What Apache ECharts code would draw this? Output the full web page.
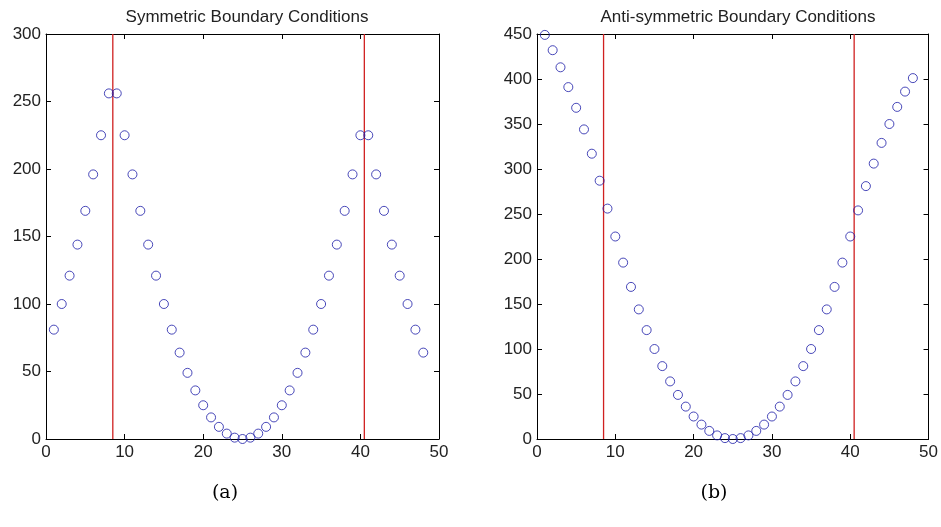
<!DOCTYPE html>
<html>
<head>
<meta charset="utf-8">
<script src="https://cdn.jsdelivr.net/npm/echarts@6/dist/echarts.min.js"></script>
<style>
html, body { margin: 0; padding: 0; background: #fff; }
#main { width: 941px; height: 527px; }
</style>
</head>
<body>
<div id="main"></div>
<script>
// x positions (1..48)
var xs = [1, 2, 3, 4, 5, 6, 7, 8, 9, 10, 11, 12, 13, 14, 15, 16, 17, 18, 19, 20, 21, 22, 23, 24,
	25, 26, 27, 28, 29, 30, 31, 32, 33, 34, 35, 36, 37, 38, 39, 40, 41, 42, 43, 44, 45, 46, 47, 48];

// symmetric boundary values
var symValues = [81, 100, 121, 144, 169, 196, 225, 256, 256, 225, 196, 169, 144, 121, 100, 81,
	64, 49, 36, 25, 16, 9, 4, 1, 0, 1, 4, 9, 16, 25, 36, 49, 64, 81, 100, 121, 144, 169, 196, 225,
	225, 196, 169, 144, 121, 100, 81, 64];
// anti-symmetric boundary values
var antiValues = [449, 432, 413, 391, 368, 344, 317, 287, 256, 225, 196, 169, 144, 121, 100, 81,
	64, 49, 36, 25, 16, 9, 4, 1, 0, 1, 4, 9, 16, 25, 36, 49, 64, 81, 100, 121, 144, 169, 196, 225,
	254, 281, 306, 329, 350, 369, 386, 401];

// boundaries (red lines)
var boundaries = [8.5, 40.5];

var titles = ['Symmetric Boundary Conditions', 'Anti-symmetric Boundary Conditions'];
var captions = ['(a)', '(b)'];
var yMax = [300, 450];

var pairs = function(vals) {
	var out = [];
	for (var i = 0; i < xs.length; i++) out.push([xs[i], vals[i]]);
	return out;
};

var gridLeft = [46, 537];
var axisColor = '#000';
var redColor = '#d02020';
var labelStyle = { color: '#222', fontSize: 17, fontFamily: 'Liberation Sans, Arial, sans-serif' };

var xAxes = [], yAxes = [], series = [], grids = [], titleList = [];
[0, 1].forEach(function(k) {
	grids.push({ left: gridLeft[k], top: 34, width: 393, height: 405, show: false });
	// bottom / top x axes
	xAxes.push({
		gridIndex: k, type: 'value', min: 0, max: 50, interval: 10, position: 'bottom',
		axisLine: { onZero: false, lineStyle: { color: axisColor, width: 1 } },
		axisTick: { inside: true, length: 5, lineStyle: { color: axisColor } },
		axisLabel: Object.assign({ margin: 5 }, labelStyle),
		splitLine: { show: false }
	});
	xAxes.push({
		gridIndex: k, type: 'value', min: 0, max: 50, interval: 10, position: 'top',
		axisLine: { onZero: false, lineStyle: { color: axisColor, width: 1 } },
		axisTick: { inside: true, length: 5, lineStyle: { color: axisColor } },
		axisLabel: { show: false },
		splitLine: { show: false }
	});
	// left / right y axes
	yAxes.push({
		gridIndex: k, type: 'value', min: 0, max: yMax[k], interval: 50, position: 'left',
		axisLine: { show: true, onZero: false, lineStyle: { color: axisColor, width: 1 } },
		axisTick: { show: true, inside: true, length: 5, lineStyle: { color: axisColor } },
		axisLabel: Object.assign({ margin: 5 }, labelStyle),
		splitLine: { show: false }
	});
	yAxes.push({
		gridIndex: k, type: 'value', min: 0, max: yMax[k], interval: 50, position: 'right',
		axisLine: { show: true, onZero: false, lineStyle: { color: axisColor, width: 1 } },
		axisTick: { show: true, inside: true, length: 5, lineStyle: { color: axisColor } },
		axisLabel: { show: false },
		splitLine: { show: false }
	});
	// red boundary lines
	boundaries.forEach(function(b) {
		series.push({
			type: 'line', xAxisIndex: k * 2, yAxisIndex: k * 2,
			data: [[b, 0], [b, yMax[k]]],
			color: redColor,
			symbol: 'none', silent: true, clip: false,
			itemStyle: { color: redColor },
			lineStyle: { color: redColor, width: 1.3, opacity: 1 },
			emphasis: { disabled: true },
			z: 2
		});
	});
	series.push({
		type: 'scatter', xAxisIndex: k * 2, yAxisIndex: k * 2,
		data: pairs(k == 0 ? symValues : antiValues),
		symbol: 'circle', symbolSize: 9,
		itemStyle: { color: 'rgba(0,0,0,0)', borderColor: '#1c1ca8', borderWidth: 1 },
		emphasis: { disabled: true },
		z: 3
	});
	titleList.push({
		text: titles[k], left: gridLeft[k] + 196, top: 4, textAlign: 'center',
		textStyle: { fontSize: 17, fontWeight: 'normal', color: '#222', fontFamily: 'Liberation Sans, Arial, sans-serif' }
	});
	titleList.push({
		text: captions[k], left: k == 0 ? 220 : 709, top: 479, textAlign: 'center',
		textStyle: { fontSize: 19, fontWeight: 'normal', color: '#000', fontFamily: 'DejaVu Serif, Liberation Serif, serif' }
	});
});

var myChart = echarts.init(document.getElementById('main'));
var option = {
	backgroundColor: '#fff',
	animation: false,
	title: titleList,
	grid: grids,
	xAxis: xAxes,
	yAxis: yAxes,
	series: series
};
myChart.setOption(option);
</script>
</body>
</html>
